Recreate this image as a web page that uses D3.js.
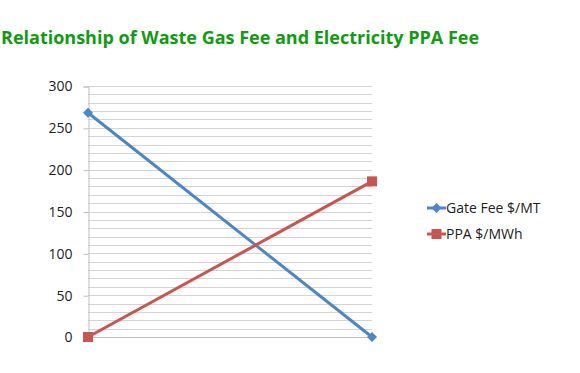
<!DOCTYPE html>
<html>
<head>
<meta charset="utf-8">
<script src="https://cdn.jsdelivr.net/npm/d3@7"></script>
<style>
body { margin: 0; background: #fff; }
text { font-family: "Open Sans", sans-serif; }
</style>
</head>
<body>
<div id="chart"></div>
<script>
const categories = ['A', 'B'];
const gateFee = [268, 0];
const ppa = [0, 186];
const seriesNames = ['Gate Fee $/MT', 'PPA $/MWh'];
const yTicks = [0, 50, 100, 150, 200, 250, 300];

const width = 580, height = 373;
const margin = {top: 86, left: 88, right: 208, bottom: 36};

const svg = d3.select('#chart').append('svg')
  .attr('width', width).attr('height', height);

svg.append('text')
  .attr('x', 1).attr('y', 44)
  .style('font-size', '18px').style('font-weight', 'bold')
  .style('fill', '#109c10')
  .text('Relationship of Waste Gas Fee and Electricity PPA Fee');

const x = d3.scalePoint().domain(categories)
  .range([margin.left, width - margin.right]);
const y = d3.scaleLinear().domain([0, 300])
  .range([height - margin.bottom, margin.top]);

// minor gridlines every 10
svg.append('g').selectAll('line').data(d3.range(10, 301, 10)).enter()
  .append('line')
  .attr('x1', margin.left).attr('x2', width - margin.right)
  .attr('y1', d => Math.round(y(d)) + 0.5).attr('y2', d => Math.round(y(d)) + 0.5)
  .style('stroke', '#d4d4d4').style('stroke-width', 1);

const yAxis = svg.append('g')
  .attr('transform', `translate(${margin.left + 0.5},0.5)`)
  .call(d3.axisLeft(y).tickValues(yTicks).tickSize(5).tickPadding(11));
yAxis.select('.domain').style('stroke', '#bfbfbf');
yAxis.selectAll('.tick line').style('stroke', '#bfbfbf');
yAxis.selectAll('.tick text')
  .style('font-size', '14px').style('fill', '#222')
  .style('font-family', '"Open Sans", sans-serif');

svg.append('line')
  .attr('x1', margin.left).attr('x2', width - margin.right)
  .attr('y1', Math.round(y(0)) + 0.5).attr('y2', Math.round(y(0)) + 0.5)
  .style('stroke', '#bfbfbf');

const line = d3.line().x((d, i) => x(categories[i])).y(d => y(d));
const colors = ['#4a86c8', '#cc5450'];
const data = [gateFee, ppa];

data.forEach((vals, s) => {
  svg.append('path').datum(vals)
    .attr('d', line)
    .style('fill', 'none').style('stroke', colors[s]).style('stroke-width', 3);
});

function marker(g, s, cx, cy) {
  if (s === 0) {
    g.append('path')
      .attr('d', `M${cx},${cy - 5}L${cx + 5},${cy}L${cx},${cy + 5}L${cx - 5},${cy}Z`)
      .style('fill', colors[s]);
  } else {
    g.append('rect')
      .attr('x', cx - 5).attr('y', cy - 5).attr('width', 10).attr('height', 10)
      .style('fill', colors[s]);
  }
}

data.forEach((vals, s) => {
  const g = svg.append('g');
  vals.forEach((v, i) => marker(g, s, x(categories[i]), y(v)));
});

// legend
const legend = svg.append('g');
seriesNames.forEach((name, s) => {
  const ly = 208 + s * 26;
  legend.append('line')
    .attr('x1', 427).attr('x2', 446).attr('y1', ly).attr('y2', ly)
    .style('stroke', colors[s]).style('stroke-width', 3);
  marker(legend, s, 436.5, ly);
  legend.append('text')
    .attr('x', 446).attr('y', ly + 5)
    .style('font-size', '14px').style('fill', '#222')
    .text(name);
});
</script>
</body>
</html>
